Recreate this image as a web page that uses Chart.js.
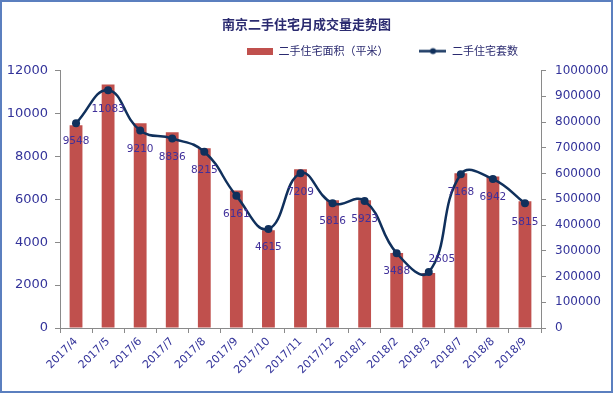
<!DOCTYPE html>
<html><head><meta charset="utf-8">
<script src="https://cdn.jsdelivr.net/npm/chart.js@4/dist/chart.umd.min.js"></script>
<style>html,body{margin:0;padding:0;background:#fff}#wrap{width:613px;height:393px}</style>
</head><body><div id="wrap"><canvas id="c" width="613" height="393"></canvas></div>
<script>
const titleText = '南京二手住宅月成交量走势图';
const categories = ['2017/4','2017/5','2017/6','2017/7','2017/8','2017/9','2017/10','2017/11','2017/12','2018/1','2018/2','2018/3','2018/7','2018/8','2018/9'];
const areaValues = [9450, 11350, 9550, 9130, 8380, 6410, 4560, 7400, 5950, 5960, 3500, 2560, 7220, 7060, 5910];
const unitValues = [9548, 11083, 9210, 8836, 8215, 6161, 4615, 7209, 5816, 5923, 3488, 2605, 7168, 6942, 5815];
const areaLabel = '二手住宅面积（平米）';
const unitLabel = '二手住宅套数';
const rightTicks = [0, 100000, 200000, 300000, 400000, 500000, 600000, 700000, 800000, 900000, 1000000];

const RED = '#c0504d', NAVY = '#10305c', TXT = '#33339a', LBL = '#40309a', AX = '#8a8a8a';
const NUM = 'DejaVu Sans, Liberation Sans, sans-serif';
const CJK = '"Noto Sans CJK SC", sans-serif';

function swatchBar(){const c=document.createElement('canvas');c.width=26;c.height=7;const g=c.getContext('2d');g.fillStyle=RED;g.fillRect(0,0,26,7);return c;}
function swatchLine(){const c=document.createElement('canvas');c.width=27;c.height=9;const g=c.getContext('2d');g.strokeStyle=NAVY;g.lineWidth=2.5;g.beginPath();g.moveTo(0,4.5);g.lineTo(27,4.5);g.stroke();g.fillStyle=NAVY;g.beginPath();g.arc(13.5,4.5,3,0,Math.PI*2);g.fill();return c;}
const sw = [swatchBar(), swatchLine()];

const labelPlugin = {
  id:'pointLabels',
  afterDatasetsDraw(chart){
    const meta = chart.getDatasetMeta(1);
    const ctx = chart.ctx;
    ctx.save();
    ctx.font = '10.5px ' + NUM;
    ctx.fillStyle = LBL;
    ctx.textAlign = 'center'; ctx.textBaseline = 'middle';
    meta.data.forEach((p,i)=>{
      let dx=0, dy=18.5;
      if (i===11){dx=13; dy=-13;}
      ctx.fillText(String(unitValues[i]), p.x+dx, p.y+dy);
    });
    ctx.restore();
  }
};
const legendPlace = {
  id:'legendPlace',
  afterInit(chart){
    const lg = chart.legend; const orig = lg.fit.bind(lg);
    lg.fit = function(){ orig(); this.height = 32; };
  },
  afterLayout(chart){
    const lg = chart.legend;
    lg.left = 215; lg.top = 14.6; lg.bottom = 68;
  }
};
const frame = {
  id:'frame',
  afterDraw(chart){const ctx=chart.ctx;ctx.save();ctx.strokeStyle='#5b7fbf';ctx.lineWidth=2;ctx.strokeRect(1,1,611,391);ctx.restore();}
};
const plain = v => String(v);

new Chart(document.getElementById('c'), {
  type:'bar',
  data:{
    labels: categories,
    datasets:[
      {label: areaLabel, data: areaValues, backgroundColor: RED, borderWidth:0, barPercentage:0.4, categoryPercentage:1, yAxisID:'y', order:1},
      {type:'line', label: unitLabel, data: unitValues, borderColor: NAVY, backgroundColor: NAVY, borderWidth:2.5, tension:0.45, pointRadius:4, pointBackgroundColor:NAVY, pointBorderWidth:0, yAxisID:'y', order:0}
    ]
  },
  options:{
    responsive:false, animation:false, devicePixelRatio:1,
    layout:{padding:{left:0,right:0,top:0,bottom:0}},
    plugins:{
      tooltip:{enabled:false},
      title:{display:true, text:titleText, color:'#2b2b70', font:{family:CJK, size:13, weight:'bold'}, padding:{top:16,bottom:7}},
      legend:{display:true, position:'top', align:'start',
        labels:{usePointStyle:true, pointStyleWidth:27, boxHeight:9, padding:31, color:'#2b2b70', font:{family:CJK,size:11},
          sort:(a,b)=>a.datasetIndex-b.datasetIndex,
          generateLabels(chart){
            const items = Chart.defaults.plugins.legend.labels.generateLabels(chart);
            items.forEach((it)=>{it.pointStyle = sw[it.datasetIndex]; it.fontColor='#2b2b70';});
            return items;
          }}
      }
    },
    scales:{
      x:{offset:true, grid:{display:true, drawOnChartArea:false, drawTicks:true, tickLength:5, color:AX, offset:true},
         border:{display:true,color:AX},
         ticks:{color:TXT, font:{family:NUM,size:11}, minRotation:45, maxRotation:45, padding:2},
         afterFit(s){s.height=65;}},
      y:{position:'left', min:0, max:12000, grid:{drawOnChartArea:false, drawTicks:true, tickLength:5, color:AX},
         border:{display:true,color:AX},
         ticks:{stepSize:2000, color:TXT, font:{family:NUM,size:13}, padding:7, callback:plain},
         afterFit(s){s.width=60;}},
      y2:{position:'right', min:0, max:1000000, grid:{drawOnChartArea:false, drawTicks:true, tickLength:5, color:AX},
         border:{display:true,color:AX},
         ticks:{stepSize:100000, color:TXT, font:{family:NUM,size:12}, padding:9, callback:plain},
         afterBuildTicks(s){s.ticks = rightTicks.map(v=>({value:v}));},
         afterFit(s){s.width=72;}}
    }
  },
  plugins:[labelPlugin, legendPlace, frame]
});
</script></body></html>
